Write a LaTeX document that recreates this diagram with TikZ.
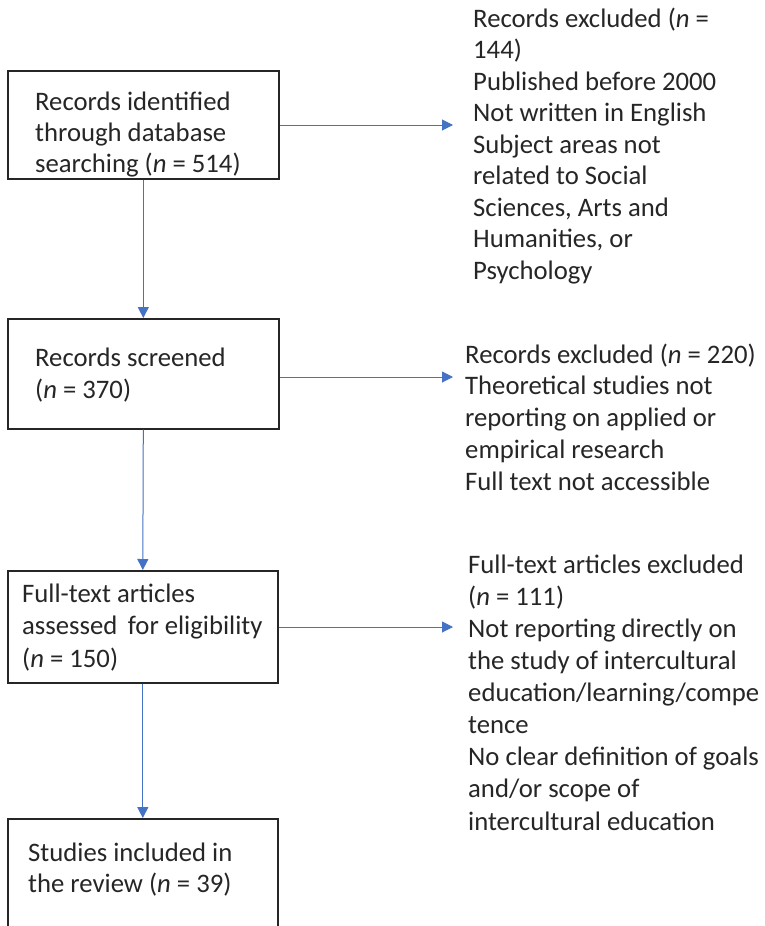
\documentclass[tikz,border=0pt]{standalone}
\usepackage{fontspec}
\setmainfont{Carlito}
\usetikzlibrary{arrows.meta}
\definecolor{arrblue}{HTML}{4472C4}
\definecolor{boxgray}{HTML}{262626}
\tikzset{
  boxnode/.style={draw=boxgray, line width=1.6pt, rectangle, inner sep=0pt, anchor=north west},
  txt/.style={inner sep=0pt, align=left, anchor=base west, text=black!85,
    font=\fontsize{26.7pt}{31.7pt}\selectfont},
  flow/.style={draw=arrblue, line width=1pt, -{Triangle[length=11pt,width=11pt]}, arrblue}
}
\begin{document}
\begin{tikzpicture}[x=1pt,y=-1pt]
\clip (0,0) rectangle (764,926);
\fill[white] (0,0) rectangle (764,926);
% boxes
\node[boxnode, minimum width=271pt, minimum height=108pt] (b1) at (7,70) {};
\node[boxnode, minimum width=271pt, minimum height=110pt] (b2) at (7,318) {};
\node[boxnode, minimum width=270pt, minimum height=112pt] (b3) at (7,570) {};
\node[boxnode, minimum width=270pt, minimum height=160pt] (b4) at (7,818) {};
% box texts (anchor = baseline of last line)
\node[txt, font=\fontsize{26.7pt}{31pt}\selectfont] (t1) at (35,172) {Records identified\\through database\\searching (\textit{n} = 514)};
\node[txt, font=\fontsize{26.7pt}{32pt}\selectfont] (t2) at (35,398) {Records screened\\(\textit{n} = 370)};
\node[txt, font=\fontsize{26.7pt}{32.5pt}\selectfont] (t3) at (22,667) {Full-text articles\\assessed\, for eligibility\\(\textit{n} = 150)};
\node[txt, font=\fontsize{26.7pt}{31pt}\selectfont] (t4) at (28,892) {Studies included in\\the review (\textit{n} = 39)};
% exclusion texts
\node[txt, font=\fontsize{26.7pt}{31.5pt}\selectfont] (e1) at (473,279) {Records excluded (\textit{n} =\\144)\\Published before 2000\\Not written in English\\Subject areas not\\related to Social\\Sciences, Arts and\\Humanities, or\\Psychology};
\node[txt, font=\fontsize{26.7pt}{31.7pt}\selectfont] (e2) at (465,490) {Records excluded (\textit{n} = 220)\\Theoretical studies not\\reporting on applied or\\empirical research\\Full text not accessible};
\node[txt, font=\fontsize{26.7pt}{32.1pt}\selectfont] (e3) at (468,830) {Full-text articles excluded\\(\textit{n} = 111)\\Not reporting directly on\\the study of intercultural\\education/learning/compe\\tence\\No clear definition of goals\\and/or scope of\\intercultural education};
% arrow targets
\coordinate (h1) at (453,125);
\coordinate (h2) at (453,377);
\coordinate (h3) at (453,627);
% horizontal arrows
\draw[flow] (b1.east |- h1) -- (h1);
\draw[flow] (b2.east |- h2) -- (h2);
\draw[flow] (b3.east |- h3) -- (h3);
% vertical arrows
\draw[flow] (b1.south) -- (b2.north);
\draw[flow] (b2.south) -- (b3.north);
\draw[flow] (b3.south) -- (b4.north);
\end{tikzpicture}
\end{document}
